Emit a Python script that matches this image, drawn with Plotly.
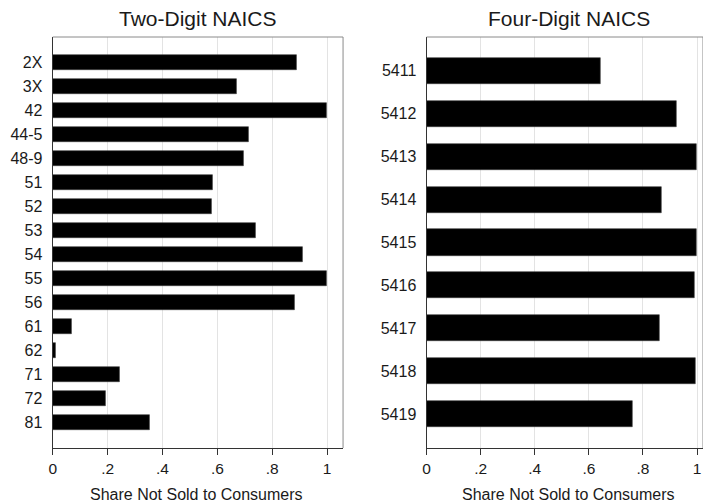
import plotly.graph_objects as go

# Two-digit NAICS sectors and their share of output not sold to consumers
two_digit_codes = ["2X", "3X", "42", "44-5", "48-9", "51", "52", "53",
                   "54", "55", "56", "61", "62", "71", "72", "81"]
two_digit_share = [0.889, 0.670, 1.000, 0.715, 0.697, 0.582, 0.580, 0.740,
                   0.912, 1.000, 0.883, 0.070, 0.010, 0.245, 0.193, 0.355]

# Four-digit industries within sector 54
four_digit_codes = ["5411", "5412", "5413", "5414", "5415",
                    "5416", "5417", "5418", "5419"]
four_digit_share = [0.645, 0.924, 1.000, 0.869, 1.000,
                    0.990, 0.863, 0.996, 0.760]

x_ticks = [0, 0.2, 0.4, 0.6, 0.8, 1.0]
x_tick_text = ["0", ".2", ".4", ".6", ".8", "1"]

W, H = 703, 504
FONT = "Liberation Sans, Arial, sans-serif"
INK = "#1a1a1a"


def px_x(v):
    return v / W


def px_y(v):
    return 1 - v / H


fig = go.Figure()

fig.add_trace(go.Bar(
    x=two_digit_share, y=two_digit_codes, orientation="h",
    width=0.64, marker=dict(color="black", line=dict(color="#3a3a3a", width=0.6)),
    xaxis="x", yaxis="y", showlegend=False,
))
fig.add_trace(go.Bar(
    x=four_digit_share, y=four_digit_codes, orientation="h",
    width=0.61, marker=dict(color="black", line=dict(color="#3a3a3a", width=0.6)),
    xaxis="x2", yaxis="y2", showlegend=False,
))

y_dom = [px_y(448), px_y(37)]

common_x = dict(
    tickmode="array", tickvals=x_ticks, ticktext=x_tick_text,
    ticks="outside", ticklen=6, tickcolor="#333", tickwidth=1,
    showgrid=True, gridcolor="#e3e3e3", gridwidth=1,
    showline=True, linecolor="#333", linewidth=1.2,
    zeroline=False, tickfont=dict(family=FONT, size=15.5, color=INK),
    fixedrange=True,
)
common_y = dict(
    type="category", showgrid=False, zeroline=False,
    showline=True, linecolor="#333", linewidth=1.2,
    ticks="", ticklabelstandoff=6,
    tickfont=dict(family=FONT, size=16, color=INK),
    fixedrange=True,
)

n1 = len(two_digit_codes)
n2 = len(four_digit_codes)

fig.update_layout(
    width=W, height=H,
    margin=dict(l=0, r=0, t=0, b=0),
    paper_bgcolor="white", plot_bgcolor="white",
    bargap=0,
    xaxis=dict(domain=[px_x(49), px_x(341)], range=[0, 1.058], anchor="y", **common_x),
    yaxis=dict(domain=y_dom, range=[n1 - 1 + 1.07, -1.07], anchor="x", **common_y),
    xaxis2=dict(domain=[px_x(425), 1.0], range=[0, 1.022], anchor="y2", **common_x),
    yaxis2=dict(domain=y_dom, range=[n2 - 1 + 0.79, -0.79], anchor="x2", **common_y),
)

# Light frame on the top and right edges of each panel
for xr, yr in (("x domain", "y domain"), ("x2 domain", "y2 domain")):
    fig.add_shape(type="line", xref=xr, yref=yr, x0=0, x1=1, y0=1, y1=1,
                  line=dict(color="#8a8a8a", width=1))
    fig.add_shape(type="line", xref=xr, yref=yr, x0=1, x1=1, y0=0, y1=1,
                  line=dict(color="#8a8a8a", width=1))

# Panel titles and axis titles
for cx, title in ((195, "Two-Digit NAICS"), (568, "Four-Digit NAICS")):
    fig.add_annotation(text=title, xref="paper", yref="paper",
                       x=px_x(cx), y=px_y(19), xanchor="center", yanchor="middle",
                       showarrow=False, font=dict(family=FONT, size=21, color=INK))
for cx in (194, 568):
    fig.add_annotation(text="Share Not Sold to Consumers", xref="paper", yref="paper",
                       x=px_x(cx), y=px_y(494), xanchor="center", yanchor="middle",
                       showarrow=False, font=dict(family=FONT, size=16, color=INK))

fig.write_html("out.html")
